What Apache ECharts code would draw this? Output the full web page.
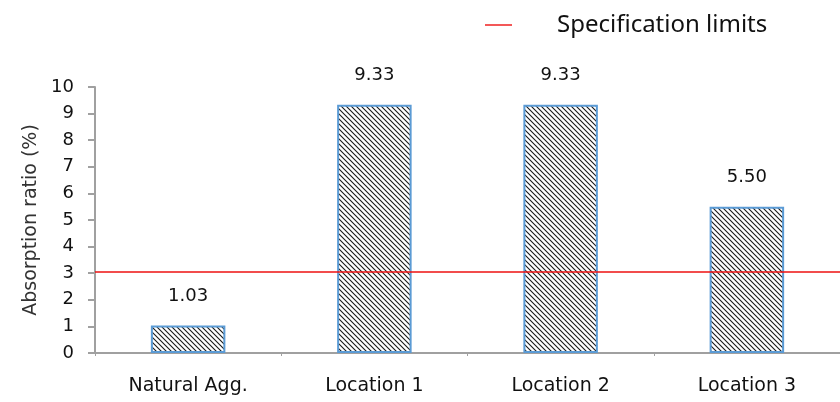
<!DOCTYPE html>
<html>
<head>
<meta charset="utf-8">
<script src="https://cdn.jsdelivr.net/npm/echarts@6/dist/echarts.min.js"></script>
<style>
  html, body { margin: 0; padding: 0; background: #fff; }
  #chart { width: 840px; height: 402px; }
</style>
</head>
<body>
<div id="chart"></div>
<script>
// Absorption ratio per sample source
const categories = ['Natural Agg.', 'Location 1', 'Location 2', 'Location 3'];
const absorption = [1.03, 9.33, 9.33, 5.50];
const specLimit = 3.07;
const yTicks = [0, 1, 2, 3, 4, 5, 6, 7, 8, 9, 10];

const RED = '#ee1111';

// Downward diagonal hatch used to fill the bars
function hatchPattern() {
  const s = 5;
  const c = document.createElement('canvas');
  c.width = s; c.height = s;
  const g = c.getContext('2d');
  g.fillStyle = '#fff';
  g.fillRect(0, 0, s, s);
  g.strokeStyle = '#1a1a1a';
  g.lineWidth = 1.1;
  g.beginPath();
  g.moveTo(-1, -1); g.lineTo(s + 1, s + 1);
  g.moveTo(-1, s - 1); g.lineTo(1, s + 1);
  g.moveTo(s - 1, -1); g.lineTo(s + 1, 1);
  g.stroke();
  return c;
}

const font = 'DejaVu Sans';
const chart = echarts.init(document.getElementById('chart'), null, { renderer: 'canvas' });
chart.setOption({
  animation: false,
  backgroundColor: '#fff',
  legend: {
    top: 8,
    left: 480,
    itemWidth: 27,
    itemHeight: 32,
    data: [{
      name: 'Specification limits',
      icon: 'path://M0,15 L27,15 L27,16.4 L0,16.4 Z',
      itemStyle: { color: RED }
    }],
    textStyle: { fontFamily: 'Noto Sans', fontSize: 24, color: '#111', padding: [0, 0, 0, 40] }
  },
  grid: { left: 95, right: 0, top: 87, bottom: 49, containLabel: false },
  xAxis: {
    type: 'category',
    data: categories,
    axisLine: { lineStyle: { color: '#a0a0a0', width: 2 } },
    axisTick: { show: true, length: 3, lineStyle: { color: '#a0a0a0', width: 1 } },
    axisLabel: { fontFamily: font, fontSize: 19, color: '#111', margin: 24 }
  },
  yAxis: {
    type: 'value',
    min: yTicks[0],
    max: yTicks[yTicks.length - 1],
    interval: 1,
    name: 'Absorption ratio (%)',
    nameLocation: 'middle',
    nameGap: 41,
    nameTextStyle: { fontFamily: font, fontSize: 19, color: '#333' },
    splitLine: { show: false },
    axisLine: { show: true, lineStyle: { color: '#a0a0a0', width: 2 } },
    axisTick: { show: true, length: 7, lineStyle: { color: '#a0a0a0', width: 2 } },
    axisLabel: { fontFamily: font, fontSize: 18, color: '#111', margin: 21 }
  },
  series: [
    {
      type: 'bar',
      data: absorption,
      barWidth: '40%',
      itemStyle: {
        color: { image: hatchPattern(), repeat: 'repeat' },
        borderColor: '#5b9bd5',
        borderWidth: 2
      },
      label: {
        show: true,
        position: 'top',
        distance: 20,
        fontFamily: font,
        fontSize: 18,
        color: '#111',
        formatter: p => p.value.toFixed(2)
      },
      markLine: {
        silent: true,
        symbol: ['none', 'none'],
        label: { show: false },
        lineStyle: { color: RED, width: 1.5, type: 'solid' },
        data: [{ yAxis: specLimit }]
      }
    },
    {
      name: 'Specification limits',
      type: 'line',
      data: [],
      symbol: 'none',
      color: RED,
      lineStyle: { color: RED, width: 1.5 },
      itemStyle: { color: RED }
    }
  ]
});
</script>
</body>
</html>
